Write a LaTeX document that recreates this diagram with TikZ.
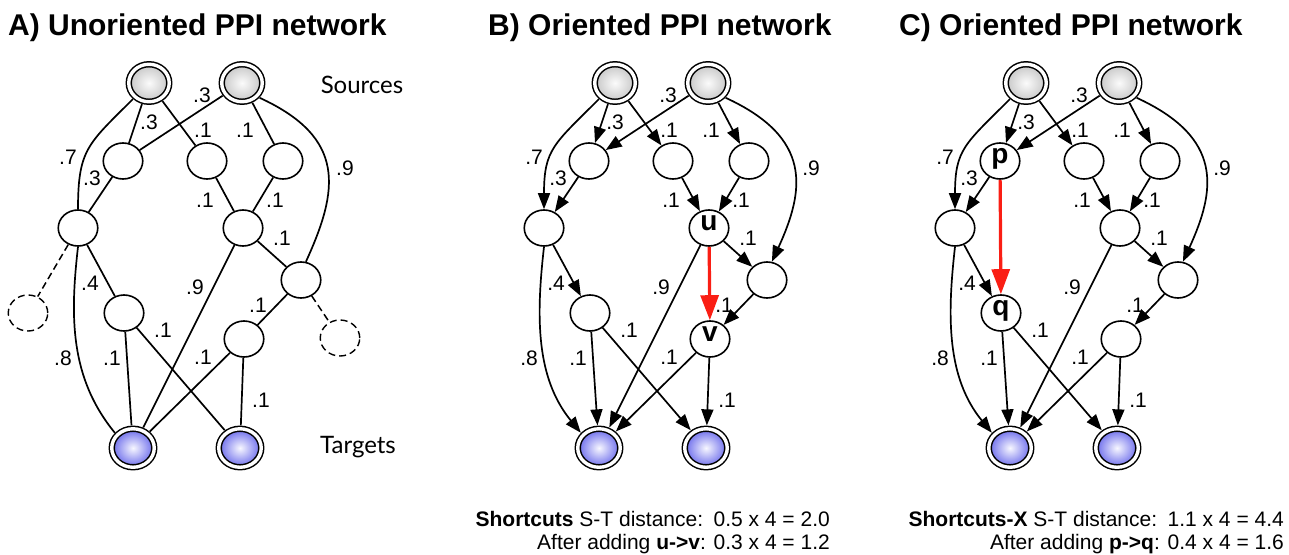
\documentclass[tikz,border=0pt]{standalone}
\usepackage{fontspec}
\setmainfont{Liberation Sans}
\newfontfamily\gill{Lato}
\usetikzlibrary{shapes.geometric,arrows.meta}
\definecolor{shortred}{RGB}{250,30,20}
\definecolor{tgtblue}{RGB}{105,105,235}
\tikzset{
  plain/.style={ellipse, draw, line width=1.6pt, fill=white, minimum width=39.5pt, minimum height=36pt,
    inner sep=0pt, text height=0.53em, text depth=0pt, font=\bfseries\fontsize{28}{28}\selectfont},
  term/.style={ellipse, draw, line width=1.5pt, double=white, double distance=3.4pt, inner sep=0pt, outer sep=3.4pt},
  src/.style={term, minimum width=40.5pt, minimum height=37.5pt, inner color=gray!3, outer color=gray!45},
  tgt/.style={term, minimum width=42.5pt, minimum height=38.5pt, inner color=blue!3, outer color=tgtblue},
  ghost/.style={ellipse, draw, line width=1.4pt, dash pattern=on 7pt off 4pt, minimum width=39.5pt, minimum height=36pt},
  edge/.style={line width=1.7pt},
  ghostedge/.style={line width=1.5pt, dash pattern=on 7pt off 4pt},
  arr/.style={edge, -{Triangle[length=16pt,width=12pt]}},
  redarr/.style={line width=3.2pt, draw=shortred, -{Triangle[length=25pt,width=18pt,fill=shortred]}},
  wt/.style={font=\fontsize{21}{21}\selectfont, inner sep=0pt},
  title/.style={anchor=base west, font=\bfseries\fontsize{30}{30}\selectfont, inner sep=0pt},
  foot/.style={anchor=base east, font=\fontsize{21}{21}\selectfont, inner sep=0pt},
  side/.style={font=\gill\fontsize{24}{24}\selectfont, inner sep=0pt}
}
\newcommand\pnet[5]{%
  \node[src] (#1s1) at (149,83) {};
  \node[src] (#1s2) at (242,83) {};
  \node[plain] (#1n1) at (123,161) {#2};
  \node[plain] (#1n2) at (207,161) {};
  \node[plain] (#1n3) at (283,161) {};
  \node[plain] (#1n4) at (78,228) {};
  \node[plain] (#1n5) at (243,228) {#3};
  \node[plain] (#1n6) at (301,280) {};
  \node[plain] (#1n7) at (124,313) {#4};
  \node[plain] (#1n8) at (244,339) {#5};
  \node[tgt] (#1t1) at (133,448) {};
  \node[tgt] (#1t2) at (240,448) {};
}
\newcommand\pweights[1]{%
  \node[wt] (#1w1) at (202,95) {.3};
  \node[wt] (#1w2) at (149,122) {.3};
  \node[wt] (#1w3) at (203,130) {.1};
  \node[wt] (#1w4) at (245,130) {.1};
  \node[wt] (#1w5) at (68,157) {.7};
  \node[wt] (#1w6) at (345,168) {.9};
  \node[wt] (#1w7) at (92,178) {.3};
  \node[wt] (#1w8) at (205,200) {.1};
  \node[wt] (#1w9) at (275,200) {.1};
  \node[wt] (#1w10) at (282,238) {.1};
  \node[wt] (#1w11) at (90,283) {.4};
  \node[wt] (#1w12) at (195,287) {.9};
  \node[wt] (#1w13) at (258,305) {.1};
  \node[wt] (#1w14) at (163,330) {.1};
  \node[wt] (#1w15) at (63,358) {.8};
  \node[wt] (#1w16) at (112,358) {.1};
  \node[wt] (#1w17) at (203,357) {.1};
  \node[wt] (#1w18) at (261,400) {.1};
}
\newcommand\pedges[2]{% #1 prefix, #2 style
  \draw[#2] (#1s1.225) .. controls +(-45,45) and +(0,-60) .. (#1n4.north);
  \draw[#2] (#1s2.-40) .. controls +(87,40) and +(33,-72) .. (#1n6.75);
  \draw[#2] (#1n4.south) .. controls +(-8,70) and +(-45,-55) .. (#1t1.140);
  \draw[#2] (#1s1) -- (#1n1);
  \draw[#2] (#1s1) -- (#1n2);
  \draw[#2] (#1s2) -- (#1n1);
  \draw[#2] (#1s2) -- (#1n3);
  \draw[#2] (#1n1) -- (#1n4);
  \draw[#2] (#1n2) -- (#1n5);
  \draw[#2] (#1n3) -- (#1n5);
  \draw[#2] (#1n5) -- (#1n6);
  \draw[#2] (#1n4) -- (#1n7);
  \draw[#2] (#1n5) -- (#1t1);
  \draw[#2] (#1n6) -- (#1n8);
  \draw[#2] (#1n7) -- (#1t1);
  \draw[#2] (#1n7) -- (#1t2);
  \draw[#2] (#1n8) -- (#1t1);
  \draw[#2] (#1n8) -- (#1t2);
}
\begin{document}
\begin{tikzpicture}[x=1pt,y=-1pt]
\useasboundingbox (0,0) rectangle (1289,554);
% titles
\node[title] (ta) at (8,35) {A) Unoriented PPI network};
\node[title] (tb) at (488,35) {B) Oriented PPI network};
\node[title] (tc) at (899,35) {C) Oriented PPI network};
% panel A
\pnet{a}{}{}{}{}
\node[ghost] (ad1) at (28,313) {};
\node[ghost] (ad2) at (340,338) {};
\pedges{a}{edge}
\draw[ghostedge] (an4) -- (ad1);
\draw[ghostedge] (an6) -- (ad2);
\pweights{a}
\node[side] (srclbl) at (362,85) {Sources};
\node[side] (tgtlbl) at (358,447) {Targets};
% panel B
\begin{scope}[xshift=466pt]
\pnet{b}{}{u}{}{v}
\pedges{b}{arr}
\draw[redarr] (bn5) -- (bn8);
\pweights{b}
\end{scope}
% panel C
\begin{scope}[xshift=877pt]
\pnet{c}{p}{}{q}{}
\pedges{c}{arr}
\draw[redarr] (cn1) -- (cn7);
\pweights{c}
\end{scope}
% footers
\node[foot] (fb1) at (830,526) {\textbf{Shortcuts} S-T distance:\hspace{0.5em}0.5 x 4 = 2.0};
\node[foot] (fb2) at (830,549) {After adding \textbf{u->v}: 0.3 x 4 = 1.2};
\node[foot] (fc1) at (1284,526) {\textbf{Shortcuts-X} S-T distance:\hspace{0.5em}1.1 x 4 = 4.4};
\node[foot] (fc2) at (1284,549) {After adding \textbf{p->q}: 0.4 x 4 = 1.6};
\end{tikzpicture}
\end{document}
